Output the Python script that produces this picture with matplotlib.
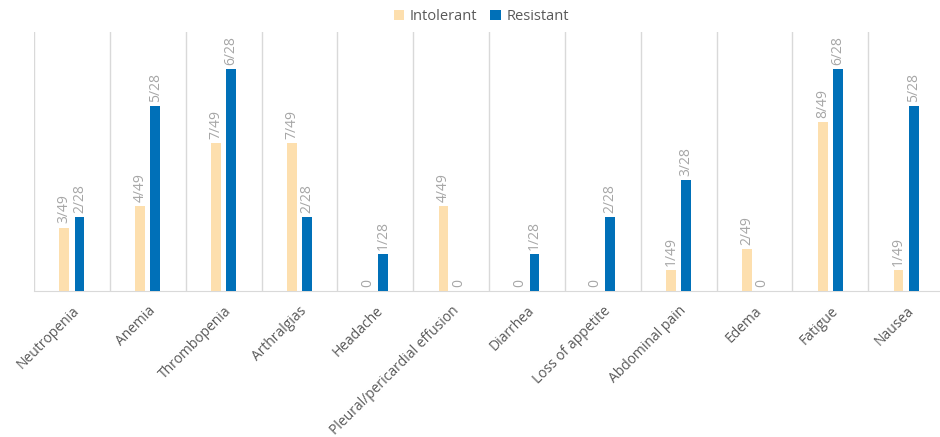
import matplotlib.pyplot as plt
import numpy as np

categories = ['Neutropenia', 'Anemia', 'Thrombopenia', 'Arthralgias', 'Headache',
              'Pleural/pericardial effusion', 'Diarrhea', 'Loss of appetite',
              'Abdominal pain', 'Edema', 'Fatigue', 'Nausea']
intolerant_n = [3, 4, 7, 7, 0, 4, 0, 0, 1, 2, 8, 1]
resistant_n = [2, 5, 6, 2, 1, 0, 1, 2, 3, 0, 6, 5]
intolerant_total = 49
resistant_total = 28

plt.rcParams['font.family'] = ['Open Sans', 'DejaVu Sans']

intolerant = np.array(intolerant_n) / intolerant_total
resistant = np.array(resistant_n) / resistant_total

fig = plt.figure(figsize=(9.4, 4.37), dpi=100)
ax = fig.add_axes([34 / 940, 1 - 291 / 437, 910 / 940, 259 / 437])

x = np.arange(len(categories))
width = 0.13
off = 0.1
c_int = '#FDDFAE'
c_res = '#0070B8'
lab_col = '#A6A6A6'

ax.bar(x - off, intolerant, width, color=c_int, label='Intolerant', zorder=3)
ax.bar(x + off, resistant, width, color=c_res, label='Resistant', zorder=3)

for i in range(len(categories)):
    for xi, v, n, tot in [(x[i] - off, intolerant[i], intolerant_n[i], intolerant_total),
                          (x[i] + off, resistant[i], resistant_n[i], resistant_total)]:
        txt = f'{n}/{tot}' if n > 0 else '0'
        ax.annotate(txt, (xi, v), xytext=(0, 3), textcoords='offset points',
                    rotation=90, ha='center', va='bottom', fontsize=10, color=lab_col)

ax.set_xlim(-0.5, len(categories) - 0.5)
ax.set_ylim(0, 0.25)
ax.set_yticks([])
ax.set_xticks(x)
ax.set_xticklabels(categories, rotation=45, ha='right', rotation_mode='anchor',
                   fontsize=10, color='#595959')
ax.tick_params(axis='x', length=0, pad=9)

for b in np.arange(-0.5, len(categories), 1.0):
    ax.axvline(b, color='#D9D9D9', lw=1, zorder=1)

for s in ['top', 'right', 'left']:
    ax.spines[s].set_visible(False)
ax.spines['bottom'].set_color('#D9D9D9')

fig.legend(loc='upper center', bbox_to_anchor=(0.512, 1.01), ncol=2, frameon=False,
           fontsize=10.5, labelcolor='#595959', handlelength=0.7, handleheight=0.7,
           handletextpad=0.4, columnspacing=0.9)

fig.savefig('out.png', dpi=100)
